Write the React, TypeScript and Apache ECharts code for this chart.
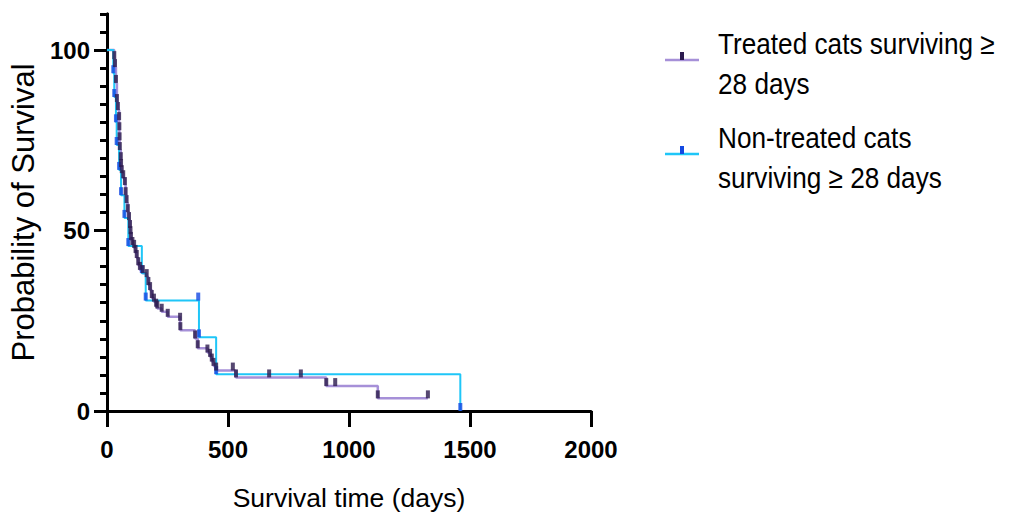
import React, { useEffect, useRef } from "react";
import * as echarts from "echarts";

// Kaplan–Meier steps: day and survival probability (%)
const treatedDays = [0, 30, 33, 37, 41, 45, 50, 51, 52, 53, 57, 58, 61, 67, 74, 77, 81, 86, 91, 95, 97, 99, 105, 112, 118, 123, 129, 136, 148, 164, 171, 178, 185, 194, 203, 208, 226, 251, 302, 303, 364, 375, 415, 426, 433, 440, 451, 520, 533, 670, 801, 906, 943, 1119, 1326];
const treatedSurv = [100, 97.5, 95.3, 90.9, 85.6, 83.4, 80.6, 77.8, 75.0, 72.3, 69.5, 67.6, 65.9, 64.5, 62.6, 59.8, 57.6, 55.1, 52.9, 50.7, 49.0, 47.4, 46.0, 45.2, 43.8, 42.4, 40.4, 39.1, 38.2, 37.1, 34.9, 33.5, 31.3, 30.3, 28.9, 28.4, 27.5, 26.1, 25.0, 22.4, 20.1, 17.4, 16.2, 15.0, 13.7, 12.5, 11.2, 11.2, 9.3, 9.3, 9.3, 6.9, 6.9, 3.5, 3.5];

const nonTreatedDays = [0, 26, 30, 37, 40, 50, 58, 72, 88, 144, 160, 377, 380, 451, 1460];
const nonTreatedSurv = [100, 93.6, 87.0, 80.0, 73.7, 66.8, 59.8, 53.5, 45.7, 38.2, 30.6, 30.6, 20.4, 10.2, 0];

const xTicks = [0, 500, 1000, 1500, 2000];
const yMajorTicks = [0, 50, 100];

const seriesNames = ["Treated cats surviving ≥ 28 days", "Non-treated cats surviving ≥ 28 days"];
const legendLabels = ["Treated cats surviving ≥\n28 days", "Non-treated cats\nsurviving ≥ 28 days"];

const PURPLE_LINE = "#a690d8";
const PURPLE_MARK = "#2c1a4e";
const CYAN_LINE = "#1fc6f8";
const BLUE_MARK = "#1449e2";

const FONT = "'Liberation Sans', Arial, Helvetica, sans-serif";

const zip = (a: number[], b: number[]) => a.map((v, i) => [v, b[i]]);

export default function App() {
  const ref = useRef<HTMLDivElement>(null);
  useEffect(() => {
    if (!ref.current) return;
    const chart = echarts.init(ref.current, null, { renderer: "svg" });
    const treated = zip(treatedDays, treatedSurv);
    const nonTreated = zip(nonTreatedDays, nonTreatedSurv);
    const axisLineStyle = { color: "#000", width: 3 };
    const tickLabel = {
      color: "#000",
      fontSize: 24,
      fontWeight: "bold",
      fontFamily: FONT,
      formatter: (v: number) => String(v),
    };
    chart.setOption({
      animation: false,
      backgroundColor: "#fff",
      grid: { left: 107, right: 418, top: 14, bottom: 110 },
      xAxis: {
        type: "value",
        min: 0,
        max: 2000,
        interval: 500,
        splitLine: { show: false },
        axisLine: { show: true, lineStyle: axisLineStyle },
        axisTick: { show: true, length: 16, lineStyle: { color: "#000", width: 3 }, customValues: xTicks },
        axisLabel: { ...tickLabel, customValues: xTicks, margin: 26 },
        name: "Survival time (days)",
        nameLocation: "middle",
        nameGap: 73,
        nameTextStyle: { color: "#000", fontSize: 26.5, fontFamily: FONT },
      },
      yAxis: [
        {
          type: "value",
          position: "left",
          min: 0,
          max: 110,
          interval: 5,
          splitLine: { show: false },
          axisLine: { show: true, lineStyle: axisLineStyle },
          axisTick: { show: true, length: 7, lineStyle: { color: "#000", width: 3 } },
          axisLabel: { show: false },
        },
        {
          type: "value",
          position: "left",
          offset: 0,
          min: 0,
          max: 110,
          interval: 50,
          splitLine: { show: false },
          axisLine: { show: true, lineStyle: axisLineStyle },
          axisTick: { show: true, length: 13, lineStyle: { color: "#000", width: 3 }, customValues: yMajorTicks },
          axisLabel: { ...tickLabel, customValues: yMajorTicks, margin: 17 },
          name: "Probability of Survival",
          nameLocation: "middle",
          nameGap: 68,
          nameTextStyle: { color: "#000", fontSize: 31, fontFamily: FONT },
        },
      ],
      series: [
        {
          name: seriesNames[0],
          type: "line",
          step: "end",
          data: treated,
          showSymbol: false,
          lineStyle: { color: PURPLE_LINE, width: 2.5 },
          z: 2,
        },
        {
          name: seriesNames[1],
          type: "line",
          step: "end",
          data: nonTreated,
          showSymbol: false,
          lineStyle: { color: CYAN_LINE, width: 2 },
          z: 3,
        },
        {
          name: seriesNames[1] + " (marks)",
          type: "scatter",
          data: nonTreated.slice(1),
          symbol: "rect",
          symbolSize: [4, 8],
          symbolOffset: [0, -4],
          itemStyle: { color: BLUE_MARK },
          z: 4,
        },
        {
          name: seriesNames[0] + " (marks)",
          type: "scatter",
          data: treated.slice(1),
          symbol: "rect",
          symbolSize: [4, 8],
          symbolOffset: [0, -4],
          itemStyle: { color: PURPLE_MARK },
          z: 5,
        },
      ],
      graphic: [
        { type: "line", shape: { x1: 665, y1: 60, x2: 699, y2: 60 }, style: { stroke: PURPLE_LINE, lineWidth: 2.5 } },
        { type: "rect", shape: { x: 680, y: 52, width: 4, height: 8 }, style: { fill: PURPLE_MARK } },
        {
          type: "text",
          x: 718,
          y: 64,
          scaleX: 0.873,
          style: {
            text: legendLabels[0],
            fill: "#000",
            fontSize: 30,
            fontFamily: FONT,
            lineHeight: 39.5,
            align: "left",
            verticalAlign: "middle",
          },
        },
        { type: "line", shape: { x1: 665, y1: 154, x2: 699, y2: 154 }, style: { stroke: CYAN_LINE, lineWidth: 2.5 } },
        { type: "rect", shape: { x: 680, y: 146, width: 4, height: 8 }, style: { fill: BLUE_MARK } },
        {
          type: "text",
          x: 718,
          y: 157.5,
          scaleX: 0.873,
          style: {
            text: legendLabels[1],
            fill: "#000",
            fontSize: 30,
            fontFamily: FONT,
            lineHeight: 40,
            align: "left",
            verticalAlign: "middle",
          },
        },
      ],
    });
    return () => chart.dispose();
  }, []);
  return (
    <div
      ref={ref}
      style={{ position: "absolute", left: 0, top: 0, width: 1009, height: 521, background: "#fff" }}
    />
  );
}
